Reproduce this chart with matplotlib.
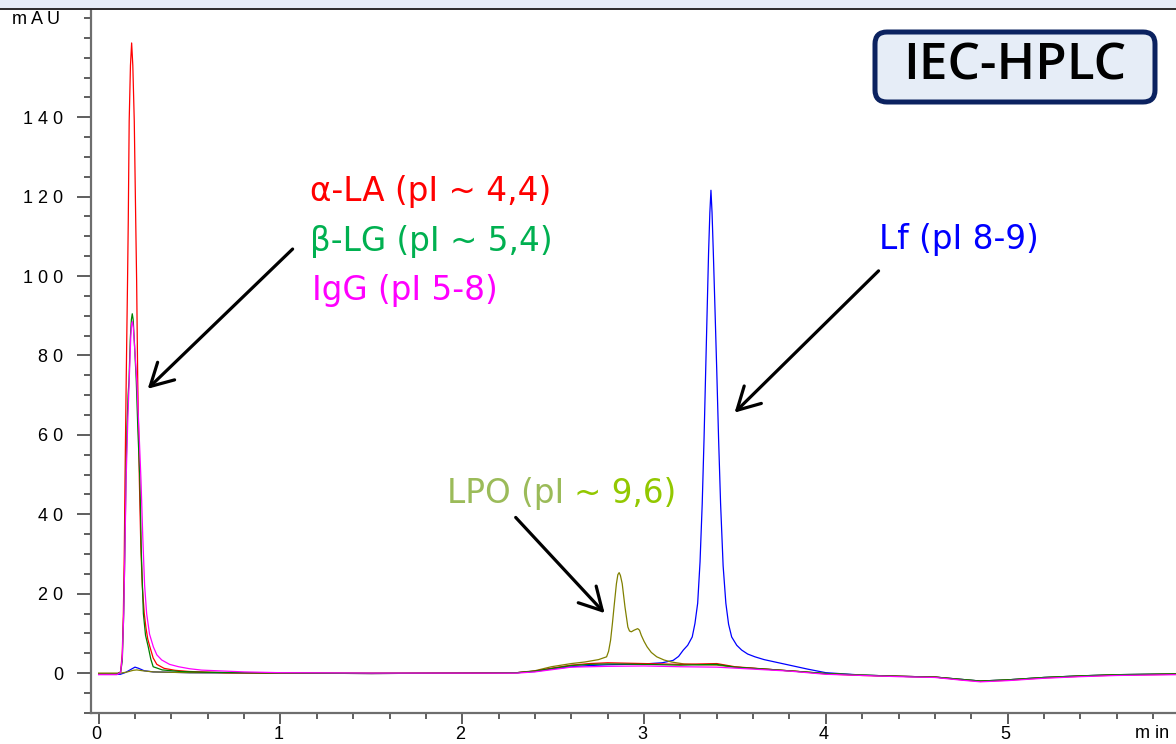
import matplotlib
matplotlib.use("Agg")
import matplotlib.pyplot as plt
from matplotlib.patches import FancyBboxPatch
from matplotlib.lines import Line2D
from matplotlib.transforms import IdentityTransform, ScaledTranslation
from matplotlib.ticker import MultipleLocator, FixedLocator

# ---------------- data ----------------
t_alpha = [0.0, 0.10, 0.121, 0.13, 0.136, 0.141, 0.145, 0.152, 0.159, 0.163, 0.168, 0.175,
           0.1815, 0.188, 0.196, 0.204, 0.209, 0.215, 0.224, 0.232, 0.24, 0.251, 0.26,
           0.27, 0.282, 0.30, 0.32, 0.36, 0.42, 0.5, 0.7, 1.0, 1.5, 2.0, 2.3, 2.4, 2.5,
           2.6, 2.7, 2.8, 3.0, 3.2, 3.4, 3.5, 3.7, 3.85, 4.0, 4.2, 4.4, 4.6, 4.75, 4.85,
           5.0, 5.2, 5.4, 5.6, 5.93]
v_alpha = [-0.3, -0.3, 0.3, 5.0, 15.0, 30.0, 48.5, 75.0, 98.8, 113.9, 139.0, 153.0,
           158.7, 153.0, 139.0, 113.9, 98.8, 73.6, 48.5, 32.0, 22.0, 15.0, 11.5,
           8.6, 6.6, 3.8, 2.2, 1.2, 0.7, 0.4, 0.1, 0.0, -0.1, 0.0, 0.1, 0.5, 1.3,
           2.0, 2.4, 2.6, 2.4, 2.2, 2.4, 1.6, 0.9, 0.4, -0.2, -0.6, -0.8, -1.0, -1.7, -2.1,
           -1.8, -1.2, -0.8, -0.5, -0.3]

t_beta = [0.0, 0.10, 0.121, 0.13, 0.138, 0.144, 0.150, 0.156, 0.162, 0.167, 0.174, 0.18,
          0.185, 0.19, 0.197, 0.207, 0.216, 0.227, 0.235, 0.246, 0.258, 0.273, 0.287,
          0.30, 0.35, 0.45, 0.6, 1.0, 1.5, 2.0, 2.3, 2.4, 2.5, 2.6, 2.7, 2.8, 3.0, 3.2,
          3.4, 3.5, 3.7, 3.85, 4.0, 4.2, 4.4, 4.6, 4.75, 4.85, 5.0, 5.2, 5.4, 5.6, 5.93]
v_beta = [-0.3, -0.3, 0.3, 3.0, 15.0, 30.0, 48.5, 62.0, 70.0, 73.6, 84.0, 89.0,
          90.5, 89.0, 83.0, 73.6, 61.0, 48.5, 30.0, 15.0, 9.5, 6.6, 3.5,
          1.6, 0.8, 0.4, 0.2, 0.0, -0.1, 0.0, 0.1, 0.5, 1.2, 1.9, 2.2, 2.3, 2.2, 2.0,
          2.2, 1.5, 0.9, 0.4, -0.1, -0.5, -0.8, -1.0, -1.6, -2.0, -1.7, -1.1, -0.7, -0.4, -0.2]

t_igg = [0.0, 0.10, 0.121, 0.13, 0.138, 0.145, 0.151, 0.16, 0.168, 0.177, 0.182, 0.186,
         0.191, 0.198, 0.210, 0.222, 0.233, 0.243, 0.253, 0.264, 0.28, 0.301, 0.32,
         0.347, 0.39, 0.44, 0.5, 0.567, 0.8, 1.0, 1.5, 2.0, 2.3, 2.4, 2.5, 2.6, 2.8,
         3.0, 3.2, 3.4, 3.6, 3.8, 4.0, 4.2, 4.4, 4.6, 4.75, 4.85, 5.0, 5.2, 5.4, 5.6, 5.93]
v_igg = [-0.4, -0.4, 0.2, 4.0, 15.0, 32.0, 48.5, 63.0, 73.6, 85.0, 88.0, 88.5,
         87.0, 82.0, 73.6, 61.0, 48.5, 34.0, 22.0, 15.0, 9.8, 6.6, 4.6,
         3.3, 2.2, 1.6, 1.1, 0.75, 0.3, 0.1, 0.0, 0.0, 0.0, 0.3, 0.9, 1.5, 1.7,
         1.8, 1.6, 1.5, 1.0, 0.5, -0.3, -0.6, -0.9, -1.1, -1.8, -2.2, -1.9, -1.3, -0.9, -0.6, -0.4]

t_lf = [0.0, 0.12, 0.15, 0.18, 0.20, 0.22, 0.25, 0.3, 0.5, 1.0, 1.5, 2.0, 2.3, 2.4, 2.5,
        2.6, 2.7, 2.8, 2.9, 3.0, 3.1, 3.16, 3.19, 3.216, 3.24, 3.265, 3.28, 3.295, 3.308,
        3.32, 3.33, 3.339, 3.348, 3.355, 3.362, 3.368, 3.374, 3.381, 3.39, 3.40, 3.41,
        3.421, 3.435, 3.45, 3.465, 3.482, 3.51, 3.537, 3.57, 3.61, 3.66, 3.72, 3.8, 3.9,
        4.0, 4.2, 4.4, 4.6, 4.75, 4.85, 5.0, 5.2, 5.4, 5.6, 5.93]
v_lf = [-0.3, -0.3, 0.2, 1.0, 1.5, 1.2, 0.6, 0.3, 0.1, 0.0, -0.1, 0.0, 0.1, 0.4, 1.1,
        1.6, 1.9, 2.1, 2.2, 2.3, 2.6, 3.2, 4.2, 5.8, 7.0, 9.1, 12.5, 17.6, 28.0,
        42.7, 59.0, 76.1, 93.0, 106.0, 116.0, 121.6, 116.0, 106.0, 92.0, 76.1, 59.0,
        42.7, 27.0, 17.6, 12.3, 9.1, 7.0, 5.8, 4.8, 4.1, 3.4, 2.8, 2.0, 1.0,
        0.1, -0.5, -0.8, -1.0, -1.6, -2.0, -1.7, -1.1, -0.7, -0.4, -0.2]

t_lpo = [0.0, 0.12, 0.15, 0.19, 0.21, 0.24, 0.3, 0.5, 1.0, 2.0, 2.3, 2.4, 2.49, 2.6,
         2.675, 2.75, 2.794, 2.805, 2.816, 2.826, 2.835, 2.848, 2.856, 2.863, 2.87, 2.88,
         2.895, 2.911, 2.92, 2.93, 2.945, 2.965, 2.975, 2.985, 3.0, 3.017, 3.04, 3.07,
         3.11, 3.15, 3.22, 3.3, 3.4, 3.5, 3.7, 3.85, 4.0, 4.2, 4.4, 4.6, 4.75, 4.85,
         5.0, 5.2, 5.4, 5.6, 5.93]
v_lpo = [0.0, 0.0, 0.2, 0.7, 0.8, 0.6, 0.3, 0.1, 0.0, 0.0, 0.1, 0.6, 1.6, 2.4,
         2.8, 3.4, 4.1, 5.5, 8.3, 12.5, 16.7, 22.5, 24.8, 25.3, 24.6, 22.5,
         16.7, 11.6, 10.6, 10.4, 10.8, 11.2, 10.8, 9.5, 8.0, 6.6, 5.2, 4.1,
         3.3, 2.8, 2.3, 2.1, 2.0, 1.5, 0.9, 0.4, -0.1, -0.5, -0.8, -1.0, -1.6, -2.0,
         -1.7, -1.1, -0.7, -0.4, -0.2]

x_ticks = [0, 1, 2, 3, 4, 5]
x_ticklabels = ["0", "1", "2", "3", "4", "5"]
y_ticks = [0, 20, 40, 60, 80, 100, 120, 140]
y_ticklabels = ["0", "2 0", "4 0", "6 0", "8 0", "1 0 0", "1 2 0", "1 4 0"]

# ---------------- figure ----------------
W, H = 1176, 744
fig = plt.figure(figsize=(W / 100, H / 100), dpi=100)
fig.patch.set_facecolor("white")

# window-like top strip
fig.add_artist(FancyBboxPatch((0, 1 - 8 / H), 1, 8 / H, boxstyle="square,pad=0",
                              transform=fig.transFigure, fc="#e6edf7", ec="none"))
fig.add_artist(Line2D([0, 1], [1 - 8.5 / H, 1 - 8.5 / H], transform=fig.transFigure,
                      color="#2b2b2b", lw=1.4))

ax = fig.add_axes([91 / W, 1 - 713 / H, (W - 91) / W, (713 - 10) / H])
ax.set_xlim(-0.042, 5.926)
ax.set_ylim(-10.05, 167.0)

lw = 0.9
ax.plot(t_lf, v_lf, color="#0000ff", lw=lw)
ax.plot(t_lpo, v_lpo, color="#808000", lw=lw)
ax.plot(t_alpha, v_alpha, color="#ff0000", lw=lw)
ax.plot(t_beta, v_beta, color="#008000", lw=lw)
ax.plot(t_igg, v_igg, color="#ff00ff", lw=lw)

for s in ["top", "right"]:
    ax.spines[s].set_visible(False)
for s in ["left", "bottom"]:
    ax.spines[s].set_color("#6e6e6e")
    ax.spines[s].set_linewidth(1.6)

tick_font = dict(family="Liberation Sans", size=13)
ax.xaxis.set_major_locator(FixedLocator(x_ticks))
ax.set_xticklabels(x_ticklabels, **tick_font)
ax.xaxis.set_minor_locator(MultipleLocator(0.2))
ax.yaxis.set_major_locator(FixedLocator(y_ticks))
ax.set_yticklabels(y_ticklabels, **tick_font)
ax.yaxis.set_minor_locator(MultipleLocator(5))
ax.tick_params(axis="y", which="major", direction="out", length=10, width=1.1,
               color="#333333", pad=10)
ax.tick_params(axis="y", which="minor", direction="out", length=5, width=1.1,
               color="#333333")
ax.tick_params(axis="x", which="major", direction="out", length=8, width=1.1,
               color="#333333", pad=1.5)
ax.tick_params(axis="x", which="minor", direction="out", length=4.3, width=1.1,
               color="#333333")
for lab in ax.get_xticklabels():
    lab.set_transform(lab.get_transform() + ScaledTranslation(-2 / 100, 0, fig.dpi_scale_trans))

fig.text(12 / W, 1 - 20 / H, "m A U", ha="left", va="center", **tick_font)
fig.text(1135 / W, 1 - 733 / H, "m in", ha="left", va="center", **tick_font)

# ---------------- annotations ----------------
lab_font = dict(family="DejaVu Sans", size=23.5)
ax.text(1.161, 121.4, "α-LA (pI ~ 4,4)", color="#ff0000", va="center", ha="left", **lab_font)
ax.text(1.161, 108.8, "β-LG (pI ~ 5,4)", color="#00b050", va="center", ha="left", **lab_font)
ax.text(1.172, 96.3, "IgG (pI 5-8)", color="#ff00ff", va="center", ha="left", **lab_font)
ax.text(4.290, 109.3, "Lf (pI 8-9)", color="#0000ff", va="center", ha="left", **lab_font)
t1 = ax.text(1.914, 45.2, "LPO (pI ", color="#9bbb59", va="center", ha="left", **lab_font)
ax.annotate("~ 9,6)", xy=(1, 0), xycoords=t1, va="bottom", ha="left",
            color="#92c800", **lab_font)

arrow = dict(arrowstyle="->,head_length=1.0,head_width=0.55", lw=2.3, color="black",
             mutation_scale=16, shrinkA=0, shrinkB=0)
ax.annotate("", xy=(0.270, 71.6), xytext=(1.067, 106.8), arrowprops=arrow)
ax.annotate("", xy=(3.498, 65.6), xytext=(4.290, 101.3), arrowprops=arrow)
ax.annotate("", xy=(2.783, 15.1), xytext=(2.294, 39.2), arrowprops=arrow)

# title box
fig.add_artist(FancyBboxPatch((875, H - 102), 280, 70,
                              boxstyle="round,pad=0,rounding_size=12",
                              transform=IdentityTransform(), fc="#e6edf7", ec="#0b2260",
                              lw=3.6))
fig.text(1015 / W, 1 - 66 / H, "IEC-HPLC", ha="center", va="center",
         family="Open Sans", weight="semibold", size=37, color="black")

fig.savefig("out.png", dpi=100)
